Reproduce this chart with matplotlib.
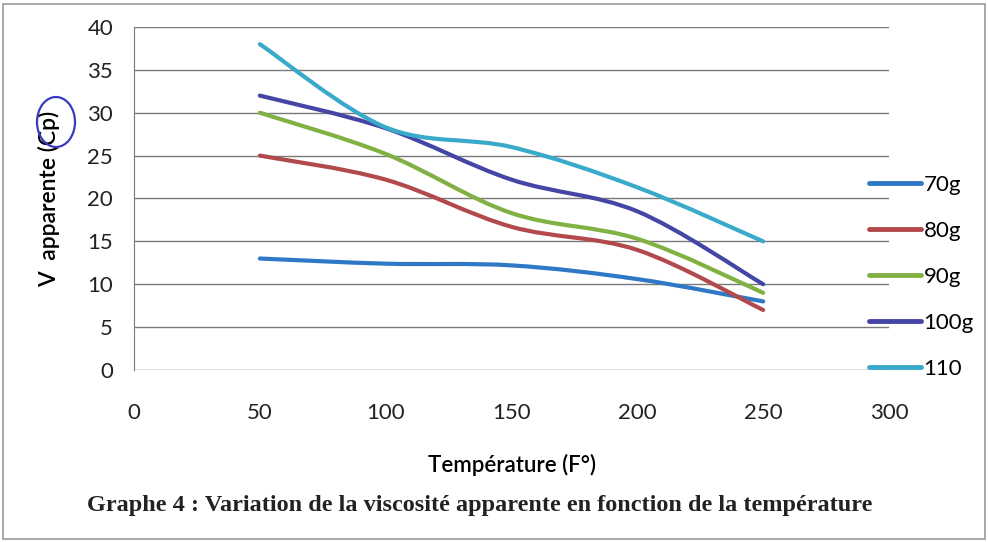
import matplotlib
matplotlib.use("Agg")
import matplotlib.pyplot as plt
from matplotlib.path import Path
from matplotlib.patches import PathPatch, Rectangle, Ellipse
from matplotlib.lines import Line2D

# Data
temperature = [50, 100, 150, 200, 250]
v_70g = [13, 12.4, 12.2, 10.6, 8]
v_80g = [25, 22.2, 16.7, 14, 7]
v_90g = [30, 25.2, 18.3, 15.3, 9]
v_100g = [32, 28.2, 22.2, 18.5, 10]
v_110 = [38, 28.3, 26, 21.3, 15]
series_names = ["70g", "80g", "90g", "100g", "110"]
colors = ["#2f78c6", "#b2494c", "#80b142", "#4545a6", "#3aaacb"]


def smooth_path(xs, ys):
    """Excel-style smoothed line: cubic Bezier through every point."""
    pts = list(zip(xs, ys))
    n = len(pts)
    verts = [pts[0]]
    codes = [Path.MOVETO]
    for i in range(n - 1):
        p0 = pts[max(i - 1, 0)]
        p1 = pts[i]
        p2 = pts[i + 1]
        p3 = pts[min(i + 2, n - 1)]
        c1 = (p1[0] + (p2[0] - p0[0]) / 6, p1[1] + (p2[1] - p0[1]) / 6)
        c2 = (p2[0] - (p3[0] - p1[0]) / 6, p2[1] - (p3[1] - p1[1]) / 6)
        verts += [c1, c2, p2]
        codes += [Path.CURVE4] * 3
    return Path(verts, codes)


plt.rcParams["font.family"] = ["Lato", "DejaVu Sans"]

fig = plt.figure(figsize=(9.88, 5.42), dpi=100)
ax = fig.add_axes([134 / 988, 1 - 370 / 542, (889 - 134) / 988, (370 - 27) / 542])

for ys, c in zip([v_70g, v_80g, v_90g, v_100g, v_110], colors):
    ax.add_patch(PathPatch(smooth_path(temperature, ys), facecolor="none",
                           edgecolor=c, lw=3.0, capstyle="round", zorder=3))

ax.set_xlim(0, 300)
ax.set_ylim(0, 40)
ax.set_xticks(range(0, 301, 50))
ax.set_yticks(range(0, 41, 5))
ax.tick_params(length=0, labelsize=16, colors="#222222")
ax.tick_params(axis="x", pad=24)
ax.tick_params(axis="y", pad=15)
ax.grid(axis="y", color="#7a7a7a", lw=1.0)
ax.set_axisbelow(True)
for side in ["top", "right", "bottom"]:
    ax.spines[side].set_visible(False)
ax.spines["left"].set_color("#7a7a7a")

ax.set_xlabel("Température (F°)", fontsize=16, fontweight="semibold", labelpad=22)
ax.set_ylabel("V  apparente (Cp)", fontsize=16.5, fontweight="semibold")
ax.yaxis.set_label_coords(-0.098, 0.5)

handles = [Line2D([0], [0], color=c, lw=3.5, solid_capstyle="round") for c in colors]
leg = fig.legend(handles, series_names, loc="upper left",
                 bbox_to_anchor=(858 / 988, 1 - 164 / 542), frameon=False,
                 fontsize=16, handlelength=2.35, handletextpad=0.1,
                 labelspacing=1.17, borderpad=0)

fig.text(480 / 988, 1 - 505 / 542,
         "Graphe 4 : Variation de la viscosité apparente en fonction de la température",
         family=["Liberation Serif", "DejaVu Serif"], fontweight="bold",
         fontsize=17.5, ha="center", va="center", color="#222222")

# outer frame of the scanned figure
fig.add_artist(Rectangle((3 / 988, 3 / 542), 982 / 988, 535 / 542,
                         transform=fig.transFigure, fill=False,
                         edgecolor="#9a9a9a", lw=1.2))
# hand-drawn circle around the unit
fig.add_artist(Ellipse((56 / 988, 1 - 122 / 542), 38 / 988, 50 / 542,
                       transform=fig.transFigure, fill=False,
                       edgecolor="#3a3ac0", lw=1.6))

fig.savefig("out.png", dpi=100)
